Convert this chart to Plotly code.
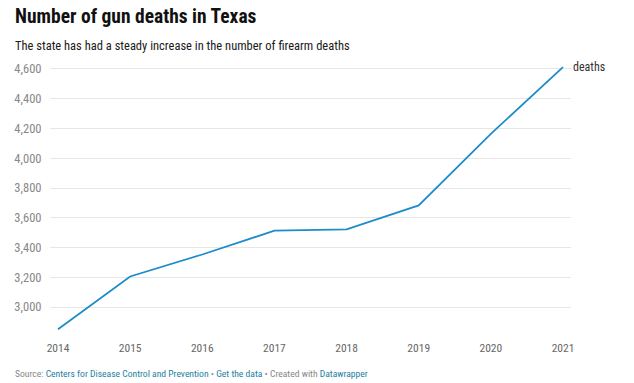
import plotly.graph_objects as go

years = [2014, 2015, 2016, 2017, 2018, 2019, 2020, 2021]
deaths = [2850, 3205, 3353, 3513, 3522, 3683, 4164, 4613]
y_ticks = [3000, 3200, 3400, 3600, 3800, 4000, 4200, 4400, 4600]
y_tick_labels = ["3,000", "3,200", "3,400", "3,600", "3,800", "4,000", "4,200", "4,400", "4,600"]

FONT = "Liberation Sans Narrow, Roboto Condensed, Roboto"
L, R, T, B = 50, 63, 62, 51
PW, PH = 634 - L - R, 383 - T - B

def px(xp):
    return (xp - L) / PW

def py(yp):
    return (383 - B - yp) / PH

fig = go.Figure()
fig.add_trace(go.Scatter(
    x=years, y=deaths, mode="lines",
    line=dict(color="#1d8cc8", width=1.8),
    hoverinfo="x+y", showlegend=False,
))

annotations = [
    dict(x=years[-1], y=deaths[-1], text="deaths", showarrow=False,
         xanchor="left", yanchor="middle", xshift=8,
         font=dict(family=FONT, size=12, color="#333333")),
    dict(xref="paper", yref="paper", x=px(13), y=py(16), xanchor="left", yanchor="middle",
         text="<b>Number of gun deaths in Texas</b>", showarrow=False,
         font=dict(family=FONT, size=19.5, color="#111111")),
    dict(xref="paper", yref="paper", x=px(13), y=py(45), xanchor="left", yanchor="middle",
         text="The state has had a steady increase in the number of firearm deaths", showarrow=False,
         font=dict(family=FONT, size=12.5, color="#1a1a1a")),
    dict(xref="paper", yref="paper", x=px(13), y=py(373), xanchor="left", yanchor="middle",
         text=("<span style='color:#888888'>Source: </span>"
               "<span style='color:#1d81a2'>Centers for Disease Control and Prevention</span>"
               "<span style='color:#888888'> • </span>"
               "<span style='color:#1d81a2'>Get the data</span>"
               "<span style='color:#888888'> • Created with </span>"
               "<span style='color:#1d81a2'>Datawrapper</span>"),
         showarrow=False, font=dict(family=FONT, size=9.6, color="#888888")),
]

fig.update_layout(
    width=634, height=383,
    margin=dict(l=L, r=R, t=T, b=B, autoexpand=False),
    paper_bgcolor="white", plot_bgcolor="white",
    font=dict(family=FONT, color="#333333"),
    xaxis=dict(
        range=[2013.889, 2021.111], tickvals=years,
        ticktext=[str(y) for y in years],
        showgrid=False, zeroline=False, showline=False,
        ticks="outside", ticklen=5, tickcolor="rgba(0,0,0,0)",
        tickfont=dict(family=FONT, size=11.5, color="#666666"),
    ),
    yaxis=dict(
        range=[2832, 4647], tickvals=y_ticks, ticktext=y_tick_labels,
        showgrid=True, gridcolor="#e6e6e6", gridwidth=1,
        zeroline=False, showline=False,
        ticks="outside", ticklen=5, tickcolor="rgba(0,0,0,0)",
        tickfont=dict(family=FONT, size=12.5, color="#888888"),
    ),
    annotations=annotations,
)

fig.write_html("out.html", config={"displayModeBar": False},
               post_script="document.body.style.margin='0';document.body.style.padding='0';")
